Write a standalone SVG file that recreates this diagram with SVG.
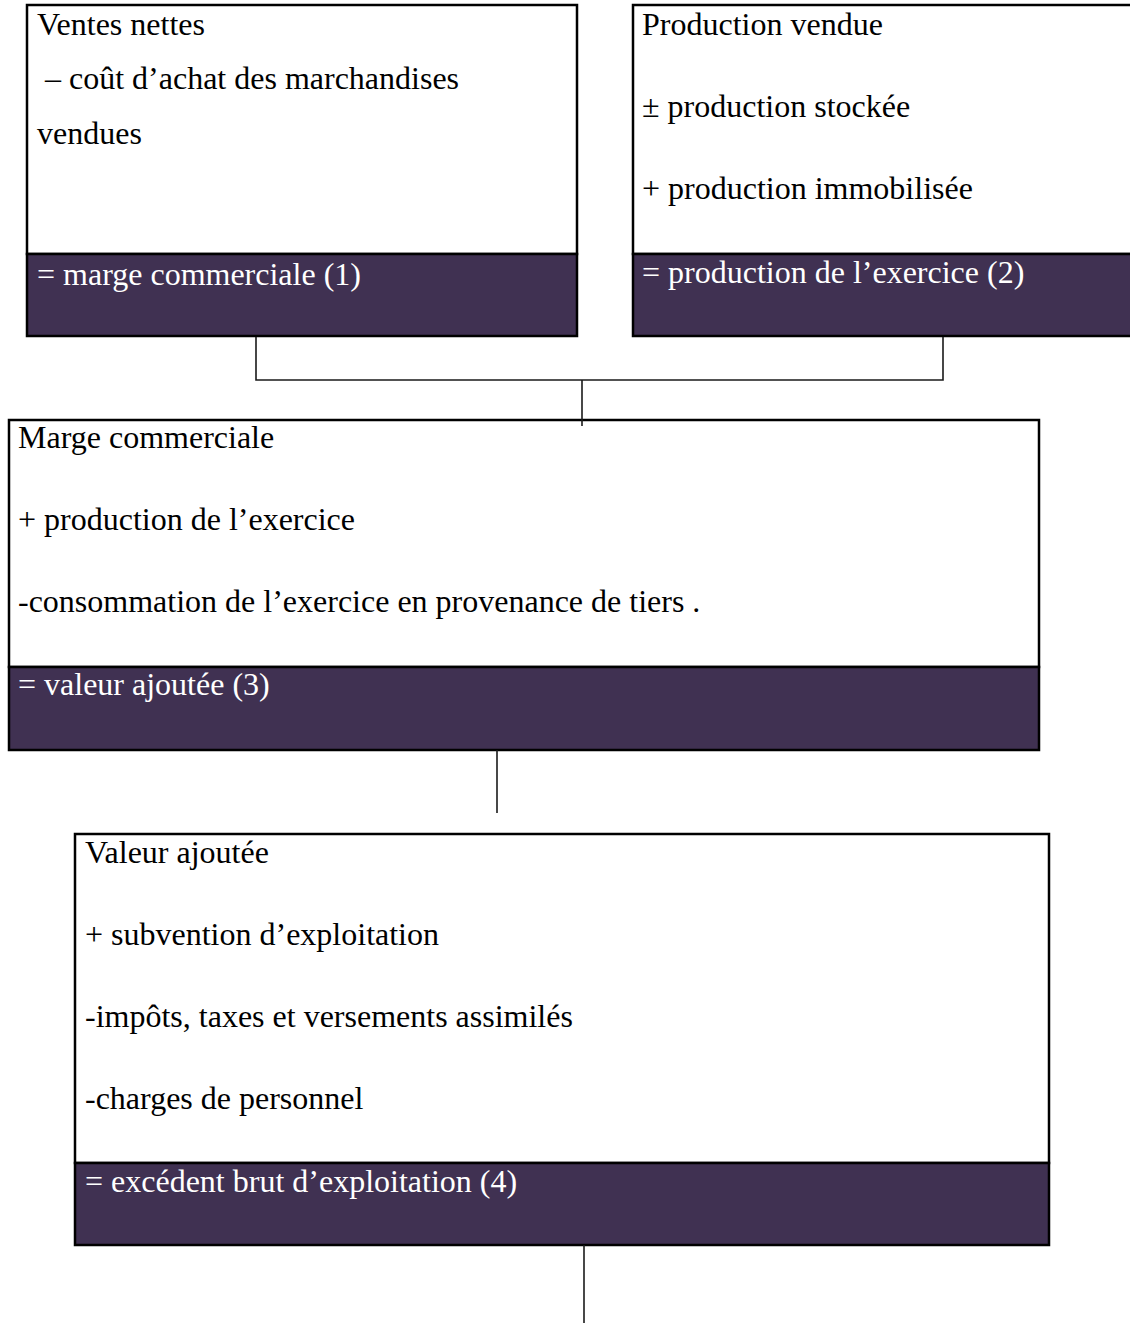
<svg xmlns="http://www.w3.org/2000/svg" width="1130" height="1325" viewBox="0 0 1130 1325">
  <style>
    .body { fill: #ffffff; stroke: #000000; stroke-width: 2.5; }
    .band { fill: #403152; stroke: #000000; stroke-width: 2.5; }
    .t { font-family: "Liberation Serif", "Times New Roman", serif; font-size: 32px; fill: #000000; }
    .w { font-family: "Liberation Serif", "Times New Roman", serif; font-size: 32px; fill: #ffffff; }
    .link { fill: none; stroke: #1a1a1a; stroke-width: 1.6; }
  </style>
  <rect width="1130" height="1325" fill="#ffffff"/>

  <!-- marge commerciale -->
  <g id="marge-commerciale">
    <rect class="body" x="27" y="5" width="550" height="249"/>
    <rect class="band" x="27" y="254" width="550" height="82"/>
    <text class="t" x="37" y="35">Ventes nettes</text>
    <text class="t" x="37" y="89" xml:space="preserve"> – coût d’achat des marchandises</text>
    <text class="t" x="37" y="144">vendues</text>
    <text class="w" x="37" y="285">= marge commerciale (1)</text>
  </g>

  <!-- production de l'exercice -->
  <g id="production-exercice">
    <rect class="body" x="633" y="5" width="510" height="249"/>
    <rect class="band" x="633" y="254" width="510" height="82"/>
    <text class="t" x="642" y="35">Production vendue</text>
    <text class="t" x="642" y="117">± production stockée</text>
    <text class="t" x="642" y="199">+ production immobilisée</text>
    <text class="w" x="642" y="283">= production de l’exercice (2)</text>
  </g>

  <!-- valeur ajoutée -->
  <g id="valeur-ajoutee">
    <rect class="body" x="9" y="420" width="1030" height="247"/>
    <rect class="band" x="9" y="667" width="1030" height="83"/>
    <text class="t" x="18" y="448">Marge commerciale</text>
    <text class="t" x="18" y="530">+ production de l’exercice</text>
    <text class="t" x="18" y="612">-consommation de l’exercice en provenance de tiers .</text>
    <text class="w" x="18" y="695">= valeur ajoutée (3)</text>
  </g>

  <!-- excédent brut d'exploitation -->
  <g id="excedent-brut">
    <rect class="body" x="75" y="834" width="974" height="329"/>
    <rect class="band" x="75" y="1163" width="974" height="82"/>
    <text class="t" x="85" y="863">Valeur ajoutée</text>
    <text class="t" x="85" y="945">+ subvention d’exploitation</text>
    <text class="t" x="85" y="1027">-impôts, taxes et versements assimilés</text>
    <text class="t" x="85" y="1109">-charges de personnel</text>
    <text class="w" x="85" y="1192">= excédent brut d’exploitation (4)</text>
  </g>

  <!-- connectors, drawn last so their ends overlap the box edges -->
  <g id="connectors">
    <polyline class="link" points="256,337 256,380 943,380 943,337"/>
    <line class="link" x1="582" y1="380" x2="582" y2="426"/>
    <line class="link" x1="497" y1="750" x2="497" y2="813"/>
    <line class="link" x1="584" y1="1245" x2="584" y2="1323"/>
  </g>
</svg>
